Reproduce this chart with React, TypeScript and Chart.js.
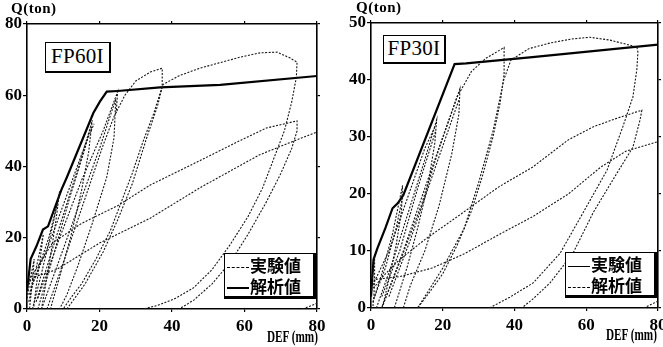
import React, { useEffect, useRef } from "react";
import { Chart, registerables } from "chart.js";

Chart.register(...registerables);

type P = [number, number];

// ---------- FP60I (left panel) ----------
const fp60Analysis: P[] = [
  [0, 5], [1, 14], [2.6, 17.6], [4.4, 22.3], [5.8, 23.2], [9.5, 33.5], [11, 37],
  [18.3, 55], [20.1, 58.2], [22, 61], [25, 61.2], [36.7, 62.2], [53.3, 62.9], [80, 65.4],
];
const fp60LoopA: P[] = [[0, 3], [1, 9], [2, 14], [1.5, 8], [1, 3], [0.7, 0]];
const fp60LoopB: P[] = [[0.5, 2], [2, 9], [3.5, 16], [4.5, 21], [3.5, 13], [2.5, 6], [1.8, 0]];
const fp60LoopC: P[] = [[1.5, 0], [4, 10], [7, 23], [9, 33], [8, 25], [6.5, 15], [5, 6], [4, 0]];
const fp60LoopC2: P[] = [[0.5, 4], [3, 11], [6, 20], [8.5, 30]];
const fp60LoopD: P[] = [[3, 0], [7, 14], [12, 32], [16, 45], [18, 53], [17, 44], [15, 33], [12, 20], [9, 9], [7, 2], [6.5, 0]];
const fp60LoopD2: P[] = [[2.5, 2], [8, 20], [13, 36], [17.5, 51]];
const fp60LoopD3: P[] = [[1, 6], [6, 18], [11, 32], [16, 46], [18.5, 52]];
const fp60LoopE: P[] = [[4, 0], [9, 14], [15, 31], [20, 45], [24.5, 59], [24, 48], [22, 37], [18, 24], [14, 12], [11, 4], [9, 0]];
const fp60LoopE2: P[] = [[3, 3], [9, 20], [15, 36], [21, 50], [25, 61], [24.6, 55]];
const fp60Loop37: P[] = [
  [5.5, 0], [9, 10], [13, 22], [17, 34], [21, 46], [24, 54], [27, 60], [30, 64], [34, 66.5],
  [37.3, 67.6], [37.3, 62.5], [35, 55], [32, 47], [29, 38], [26, 30], [23, 22], [19, 14],
  [15, 7], [12, 3], [10, 0],
];
const fp60LoopBig: P[] = [
  [11, 0], [16, 7], [21, 16], [25, 25], [29, 35], [33, 48], [36, 57], [37.5, 63], [42, 65.5],
  [47.7, 67.6], [58.8, 70.7], [64.3, 71.9], [69, 72.1], [72.5, 70.5], [74.5, 69.3], [74.3, 65],
  [73, 58], [71, 50], [68, 42], [65, 34], [61, 26], [56, 18], [51, 11], [46, 6], [41, 3],
  [36, 1], [32, 0],
];
const fp60LongUpper: P[] = [
  [0.5, 8], [3, 12], [7, 18.5], [15, 24], [25, 29], [34, 34.8], [48, 41.8], [59, 47.4],
  [66, 50.8], [74.5, 52.8], [74.5, 50], [73, 45], [70, 38], [66, 30], [61, 21], [56, 13],
  [51, 7], [46, 2.5], [42, 0],
];
const fp60LongLower: P[] = [
  [0, 7], [2, 9], [8, 11], [20, 18.5], [34, 25.5], [48, 34.2], [64, 43.2], [72, 46.5], [80, 49.7],
];
const fp60Tail: P[] = [[76, 0], [78, 0.8], [80, 1.6]];

// ---------- FP30I (right panel) ----------
const fp30Analysis: P[] = [
  [0, 2], [0.7, 8.5], [1.8, 10.5], [4, 14], [6, 17.5], [7.5, 18.4], [9, 19.8],
  [23.3, 42.8], [26.5, 42.9], [45, 44], [80, 46.2],
];
const fp30LoopA: P[] = [[0, 2], [0.5, 6], [1, 9], [1, 5], [0.8, 2], [0.5, 0]];
const fp30LoopC: P[] = [[0.5, 1], [3, 6], [6, 13], [8.8, 21.5], [8.5, 17], [7, 11], [5, 5], [3.5, 1], [3, 0]];
const fp30LoopC2: P[] = [[1, 2], [4, 7], [7, 14], [9, 20]];
const fp30LoopD: P[] = [[1.5, 0], [6, 8], [11, 18], [15, 26], [18.3, 33], [17.8, 29], [16, 22], [13, 14], [10, 7], [7.5, 2], [6.5, 0]];
const fp30LoopD2: P[] = [[3, 2], [8, 10], [13, 21], [18, 31]];
const fp30LoopD3: P[] = [[0.5, 4], [5, 10], [10, 19], [15, 28], [18, 32]];
const fp30LoopE: P[] = [[3, 0], [9, 10], [15, 21], [20, 30], [24.8, 38.5], [24.5, 34], [22.5, 27], [19, 18], [15, 10], [11, 4], [9, 0]];
const fp30LoopE2: P[] = [[5, 2], [11, 12], [17, 23], [22, 32], [24.5, 36.5]];
const fp30Loop37: P[] = [
  [3, 0], [8, 8], [14, 18], [19, 28], [24, 37], [28, 41.5], [32, 43.8], [37.1, 45.7],
  [37.1, 41], [36, 36], [34, 30], [31, 23], [28, 17], [24, 11], [20, 6], [16, 2.5], [13, 0],
];
const fp30LoopBig: P[] = [
  [13, 0], [20, 7], [26, 14], [30, 22], [34, 31], [37, 40], [39, 43.5], [44, 45.5], [50, 46.5],
  [56, 47.2], [61, 47.5], [66.6, 47], [74.1, 45.8], [74.4, 44.9], [74.1, 41.8], [73, 37],
  [70.2, 31.8], [65.8, 24.2], [59.1, 16.7], [52.7, 9.6], [45.2, 4.4], [38.7, 1.9], [33, 0],
];
const fp30LongUpper: P[] = [
  [0, 3], [4, 6], [8, 8.5], [15, 12], [24, 16], [35.5, 21.2], [45, 24.7], [55, 29.5],
  [62, 31.8], [68.6, 33.3], [75.5, 34.7], [75, 33], [73, 28.2], [68.6, 23.7], [61.9, 16.7],
  [56.3, 9.6], [49.9, 4.4], [45, 1.5], [42, 0],
];
const fp30LongLower: P[] = [
  [0, 3.5], [1, 5], [8, 5.5], [17, 7], [26, 9.5], [36, 13], [45, 16], [55, 20], [64, 24.7], [71, 27.5], [80, 29.2],
];
const fp30Tail: P[] = [[76, 0], [78, 0.6], [80, 1.2]];

const xTicks = [0, 20, 40, 60, 80];
const fp60YTicks = [0, 20, 40, 60, 80];
const fp30YTicks = [0, 10, 20, 30, 40, 50];

const fp60Exp: P[][] = [
  fp60LoopA, fp60LoopB, fp60LoopC, fp60LoopC2, fp60LoopD, fp60LoopD2, fp60LoopD3, fp60LoopE, fp60LoopE2,
  fp60Loop37, fp60LoopBig, fp60LongUpper, fp60LongLower, fp60Tail,
];
const fp30Exp: P[][] = [
  fp30LoopA, fp30LoopC, fp30LoopC2, fp30LoopD, fp30LoopD2, fp30LoopD3, fp30LoopE, fp30LoopE2,
  fp30Loop37, fp30LoopBig, fp30LongUpper, fp30LongLower, fp30Tail,
];

const SERIF = "'Liberation Serif', 'DejaVu Serif', serif";

function makeConfig(exp: P[][], ana: P[], yTicks: number[], dims: { l: number; r: number; t: number; b: number }): any {
  const yMax = yTicks[yTicks.length - 1];
  const datasets: any[] = exp.map((loop, i) => ({
    label: i === 0 ? "実験値" : "",
    data: loop.map(([x, y]) => ({ x, y })),
    borderColor: "#151515",
    borderWidth: 1.1,
    borderDash: [2, 1.5],
    pointRadius: 0,
    tension: 0,
    fill: false,
  }));
  datasets.push({
    label: "解析値",
    data: ana.map(([x, y]) => ({ x, y })),
    borderColor: "#000",
    borderWidth: 2.2,
    pointRadius: 0,
    tension: 0,
    fill: false,
  });
  const tickFont = { family: SERIF, size: 17, weight: "bold" };
  const pad = (s: any) => {
    s.paddingLeft = 0;
    s.paddingRight = 0;
    s.paddingTop = 0;
    s.paddingBottom = 0;
  };
  return {
    type: "line",
    data: { datasets },
    options: {
      animation: false,
      responsive: false,
      devicePixelRatio: 1,
      layout: { padding: 0 },
      plugins: { legend: { display: false }, tooltip: { enabled: false } },
      scales: {
        x: {
          type: "linear",
          position: "bottom",
          min: 0,
          max: 80,
          afterBuildTicks: (s: any) => { s.ticks = xTicks.map((v) => ({ value: v })); },
          ticks: { font: tickFont, color: "#000", padding: 4, maxRotation: 0 },
          grid: { drawOnChartArea: false, drawTicks: true, tickLength: 3, color: "#000", lineWidth: 1.2 },
          border: { display: true, color: "#000", width: 1.6 },
          afterFit: (s: any) => { s.height = dims.b; pad(s); },
        },
        x2: {
          type: "linear",
          position: "top",
          min: 0,
          max: 80,
          afterBuildTicks: (s: any) => { s.ticks = xTicks.map((v) => ({ value: v })); },
          ticks: { display: false },
          grid: { drawOnChartArea: false, drawTicks: true, tickLength: 3, color: "#000", lineWidth: 1.2 },
          border: { display: true, color: "#000", width: 1.6 },
          afterFit: (s: any) => { s.height = dims.t; pad(s); },
        },
        y: {
          type: "linear",
          position: "left",
          min: 0,
          max: yMax,
          afterBuildTicks: (s: any) => { s.ticks = yTicks.map((v) => ({ value: v })); },
          ticks: { font: tickFont, color: "#000", padding: 1 },
          grid: { drawOnChartArea: false, drawTicks: true, tickLength: 4, color: "#000", lineWidth: 1.2 },
          border: { display: true, color: "#000", width: 1.6 },
          afterFit: (s: any) => { s.width = dims.l; pad(s); },
        },
        y2: {
          type: "linear",
          position: "right",
          min: 0,
          max: yMax,
          afterBuildTicks: (s: any) => { s.ticks = yTicks.map((v) => ({ value: v })); },
          ticks: { display: false },
          grid: { drawOnChartArea: false, drawTicks: true, tickLength: 3, color: "#000", lineWidth: 1.2 },
          border: { display: true, color: "#000", width: 1.6 },
          afterFit: (s: any) => { s.width = dims.r; pad(s); },
        },
      },
    },
  };
}

const abs = (o: React.CSSProperties): React.CSSProperties => ({ position: "absolute", ...o });

function LegendBox({ left, top, firstSolid }: { left: number; top: number; firstSolid: boolean }) {
  const line = (solid: boolean, thick: boolean) => (
    <span
      style={{
        display: "inline-block",
        width: 22,
        height: 0,
        borderTop: `${thick ? 2 : 1.2}px ${solid ? "solid" : "dashed"} #000`,
        verticalAlign: "middle",
        marginRight: 1,
      }}
    />
  );
  const txt: React.CSSProperties = {
    fontFamily: "'Noto Sans CJK JP', sans-serif",
    fontWeight: 700,
    fontSize: 17,
    lineHeight: "21px",
    whiteSpace: "nowrap",
  };
  return (
    <div
      style={abs({
        left,
        top,
        width: 86,
        height: 42,
        background: "#fff",
        borderTop: "1.5px solid #000",
        borderLeft: "1.5px solid #000",
        borderRight: "3px solid #000",
        borderBottom: "3px solid #000",
        padding: "0 0 0 2px",
      })}
    >
      <div style={txt}>{line(firstSolid, false)}実験値</div>
      <div style={txt}>{line(!firstSolid, !firstSolid)}解析値</div>
    </div>
  );
}

function Panel({ left, width, exp, ana, yTicks, dims, label, labelBox, legendPos, firstSolid, qPos, defPos }: any) {
  const ref = useRef<HTMLCanvasElement | null>(null);
  useEffect(() => {
    if (!ref.current) return;
    const chart = new Chart(ref.current, makeConfig(exp, ana, yTicks, dims));
    return () => chart.destroy();
  }, []);
  return (
    <div style={abs({ left, top: 0, width, height: 347 })}>
      <canvas ref={ref} width={width} height={347} style={{ display: "block", width, height: 347 }} />
      <div
        style={abs({
          left: qPos[0],
          top: qPos[1],
          fontFamily: SERIF,
          fontWeight: 700,
          fontSize: 15,
          lineHeight: "15px",
          letterSpacing: 0.5,
        })}
      >
        Q(ton)
      </div>
      <div
        style={abs({
          left: defPos[0],
          top: defPos[1],
          fontFamily: SERIF,
          fontWeight: 700,
          fontSize: 16,
          lineHeight: "16px",
          whiteSpace: "nowrap",
          transform: "scaleX(0.7)",
          transformOrigin: "left top",
        })}
      >
        DEF (mm)
      </div>
      <div
        style={abs({
          left: labelBox[0],
          top: labelBox[1],
          width: labelBox[2],
          height: labelBox[3],
          background: "#fff",
          borderTop: "1.5px solid #000",
          borderLeft: "1.5px solid #000",
          borderRight: "2.5px solid #000",
          borderBottom: "2.5px solid #000",
          boxSizing: "border-box",
          fontFamily: SERIF,
          fontSize: 21,
          lineHeight: `${labelBox[3] - 4}px`,
          textAlign: "center",
          letterSpacing: 0.3,
        })}
      >
        {label}
      </div>
      <LegendBox left={legendPos[0]} top={legendPos[1]} firstSolid={firstSolid} />
    </div>
  );
}

export default function App() {
  useEffect(() => {
    document.body.style.margin = "0";
  }, []);
  return (
    <div style={{ position: "relative", width: 663, height: 347, background: "#fff", overflow: "hidden" }}>
      <Panel
        left={0}
        width={331}
        exp={fp60Exp}
        ana={fp60Analysis}
        yTicks={fp60YTicks}
        dims={{ l: 27, r: 14, t: 24, b: 38 }}
        label="FP60I"
        labelBox={[45, 42, 66, 31]}
        legendPos={[224, 253]}
        firstSolid={false}
        qPos={[11, 1]}
        defPos={[267, 329]}
      />
      <Panel
        left={331}
        width={332}
        exp={fp30Exp}
        ana={fp30Analysis}
        yTicks={fp30YTicks}
        dims={{ l: 40, r: 5, t: 23, b: 39 }}
        label="FP30I"
        labelBox={[52, 35, 63, 29]}
        legendPos={[234, 252]}
        firstSolid={true}
        qPos={[25, 0]}
        defPos={[275, 327]}
      />
    </div>
  );
}
